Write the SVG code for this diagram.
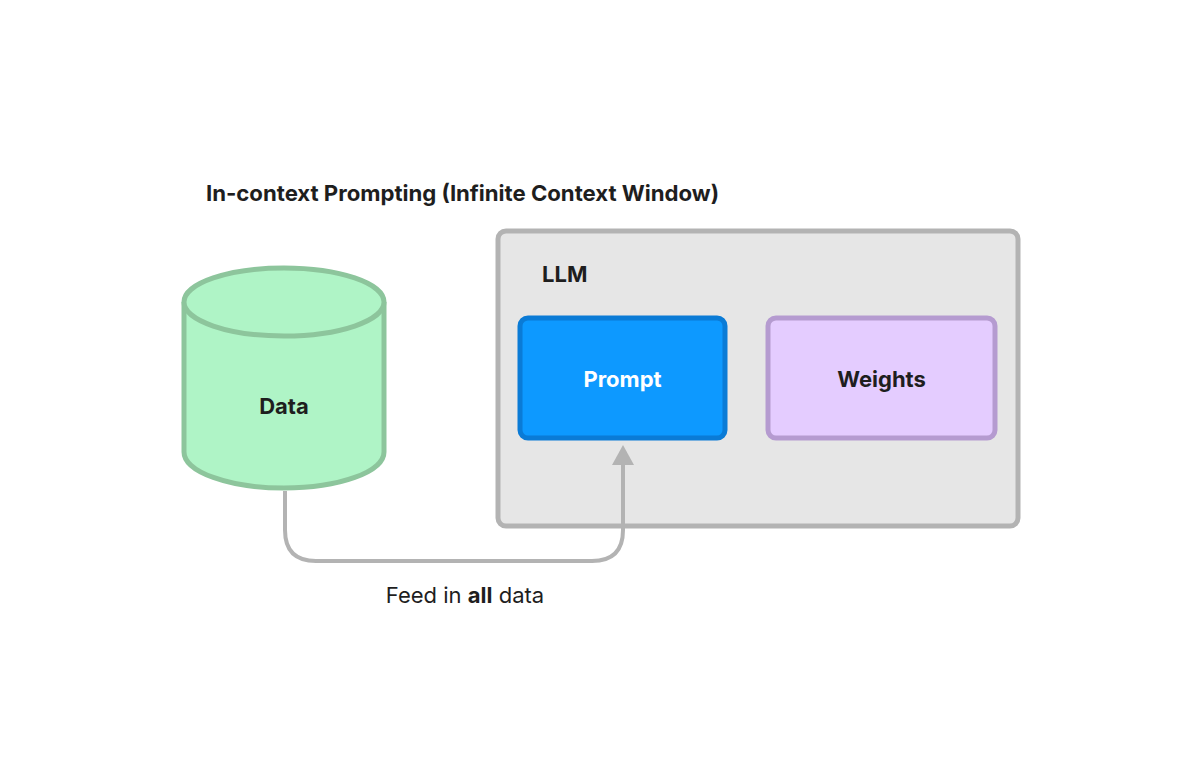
<svg xmlns="http://www.w3.org/2000/svg" width="1200" height="783" viewBox="0 0 1200 783">
<style>
text{font-family:Inter,"Liberation Sans",sans-serif;font-weight:700;font-size:22px;fill:#1e1e1e}
.c{text-anchor:middle}
</style>
<rect width="1200" height="783" fill="#fff"/>
<text x="206" y="201" style="font-size:22.2px" textLength="513">In-context Prompting (Infinite Context Window)</text>
<g id="llm"><rect x="498" y="231" width="520" height="295" rx="8" fill="#e6e6e6" stroke="#b3b3b3" stroke-width="5"/><text x="542" y="282">LLM</text></g>
<g id="prompt"><rect x="520" y="318" width="205" height="120" rx="8" fill="#0d99ff" stroke="#0a7bd6" stroke-width="5"/><text x="622.5" y="387" class="c" style="fill:#fff">Prompt</text></g>
<g id="weights"><rect x="768" y="318" width="227" height="120" rx="8" fill="#e4ccff" stroke="#b59bd0" stroke-width="5"/><text x="881.5" y="387" class="c">Weights</text></g>
<g id="data"><path d="M184,302 V452 A100,36 0 0 0 384,452 V302" fill="#aff4c6" stroke="#8dc59c" stroke-width="5"/><ellipse cx="284" cy="302" rx="100" ry="34" fill="#aff4c6" stroke="#8dc59c" stroke-width="5"/><text x="284" y="414" class="c">Data</text></g>
<g id="connectors"><path d="M285,491 V530 Q285,561 316,561 H592 Q623,561 623,530 V462" fill="none" stroke="#b3b3b3" stroke-width="4"/><path d="M612,465 L623,445 L634,465 Z" fill="#b3b3b3"/><text x="465" y="603" class="c" style="font-weight:400">Feed in <tspan style="font-weight:700">all</tspan> data</text></g>
</svg>
